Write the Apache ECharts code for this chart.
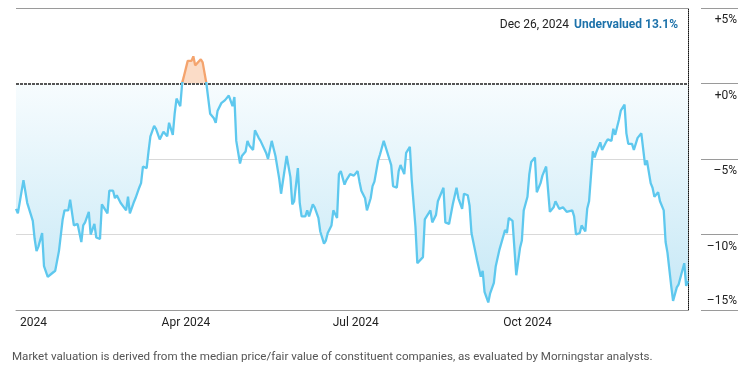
<!DOCTYPE html>
<html><head><meta charset="utf-8">
<script src="https://cdn.jsdelivr.net/npm/echarts@6/dist/echarts.min.js"></script>
<style>html,body{margin:0;padding:0;background:#fff}#c{width:754px;height:379px}</style>
</head><body><div id="c"></div>
<script>
// Day of 2024 (0 = Jan 1) for each reading
const dayOfYear = [0,1,4,6,7,9,10,11,12,14,15,17,18,19,21,23,25,26,28,29,31,33,34,35,36,37,39,40,42,43,45,46,47,49,50,52,53,54,56,57,59,60,61,63,64,66,67,68,70,71,72,74,75,77,78,79,81,82,84,85,86,88,89,91,92,93,94,95,96,97,99,100,102,103,104,106,107,108,110,111,112,114,116,117,118,120,121,123,124,125,127,128,130,131,132,134,135,137,138,139,141,142,143,145,147,148,149,151,152,153,155,156,157,159,160,162,163,165,166,167,169,170,172,173,174,176,177,179,181,
183,184,185,187,188,190,191,192,194,195,197,198,200,201,202,204,205,206,208,209,211,212,214,215,216,218,219,220,222,223,225,226,227,229,230,232,233,234,236,237,239,240,242,243,244,246,247,249,250,251,253,254,256,257,259,260,262,263,264,266,267,268,270,271,272,274,275,276,278,279,281,282,284,285,286,288,289,291,292,293,295,296,298,299,300,302,303,305,306,307,309,310,311,313,314,316,317,319,320,321,323,324,326,327,328,330,331,333,334,335,337,338,340,341,342,344,345,347,348,349,351,352,354,355,356,358,359,360];
// Market valuation, % vs fair value (negative = undervalued)
const valuation = [-8.3,-8.6,-6.4,-7.9,-8.0,-9.1,-10.3,-11.1,-10.8,-9.9,-12.1,-12.8,-12.9,-12.6,-12.4,-11.1,-9.0,-8.4,-8.4,-7.7,-9.4,-9.3,-9.4,-10.5,-9.4,-9.2,-8.5,-10.0,-9.3,-10.2,-10.3,-8.0,-7.9,-8.6,-7.1,-7.1,-7.6,-7.4,-7.9,-8.0,-8.4,-7.5,-8.6,-7.9,-7.6,-6.9,-6.6,-5.5,-5.6,-4.5,-3.5,-2.8,-3.0,-3.7,-3.6,-3.2,-3.5,-2.6,-3.4,-2.0,-1.0,-1.5,0.0,1.0,1.5,1.4,1.5,1.8,1.2,1.3,1.6,1.4,0.0,-1.0,-2.0,-2.3,-2.6,-1.8,-1.3,-1.2,-1.1,-0.8,-1.5,-0.9,-3.8,-5.3,-4.8,-4.5,-3.8,-4.1,-4.4,-3.1,-3.6,-3.8,-3.9,-4.6,-5.0,-3.8,-4.3,-4.8,-6.3,-7.3,-7.2,-4.8,-6.2,-8.0,-7.8,-5.6,-7.9,-8.8,-8.8,-8.4,-8.8,-8.0,-8.2,-8.9,-9.8,-10.6,-10.4,-9.9,-9.4,-8.4,-8.9,-6.0,-5.8,-6.7,-6.4,-6.0,-6.1,
-5.8,-6.5,-7.1,-7.6,-8.4,-7.6,-6.8,-6.5,-5.1,-4.7,-3.8,-3.8,-5.0,-5.4,-6.8,-6.9,-5.8,-5.4,-6.0,-4.6,-4.2,-6.4,-9.5,-11.9,-11.9,-11.5,-9.0,-8.8,-8.4,-9.2,-8.7,-7.8,-7.8,-6.9,-9.2,-9.3,-9.2,-8.0,-6.9,-7.6,-8.3,-7.3,-7.4,-8.1,-9.9,-11.1,-11.7,-12.8,-12.4,-13.8,-14.5,-13.9,-13.2,-12.1,-11.0,-10.9,-9.7,-9.9,-8.9,-9.1,-10.9,-12.7,-10.9,-10.4,-8.4,-7.5,-6.0,-5.2,-4.9,-7.2,-6.6,-6.1,-5.5,-5.6,-8.5,-8.2,-7.8,-8.3,-8.4,-8.2,-8.5,-8.5,-8.4,-8.8,-10.0,-9.9,-9.4,-9.8,-8.3,-7.8,-4.5,-4.9,-4.5,-3.9,-4.4,-3.9,-3.7,-3.8,-3.0,-3.4,-2.4,-1.8,-1.4,-3.3,-4.0,-4.0,-4.4,-3.6,-3.5,-3.3,-5.4,-5.1,-6.6,-6.9,-7.5,-7.2,-7.8,-8.4,-10.5,-11.2,-13.4,-14.4,-13.5,-13.3,-13.3,-11.9,-13.4,-13.1];
const xTickDays = [0, 91, 182, 274];
const xTickLabels = ['2024', 'Apr 2024', 'Jul 2024', 'Oct 2024'];
const yTickValues = [-15, -10, -5, 0, 5];
const yTickLabels = ['\u201315%', '\u201310%', '\u20135%', '+0%', '+5%'];
const annotationDate = 'Dec 26, 2024';
const annotationText = 'Undervalued 13.1%';
const footnote = 'Market valuation is derived from the median price/fair value of constituent companies, as evaluated by Morningstar analysts.';

const FONT = "Roboto,'Liberation Sans',sans-serif";
const FS = 12;
const BLUE = '#5ec8ee', ORANGE = '#f4a46e';
const lineData = dayOfYear.map((d, i) => [d, valuation[i]]);
const belowData = dayOfYear.map((d, i) => [d, Math.min(valuation[i], 0)]);
const aboveData = dayOfYear.map((d, i) => [d, Math.max(valuation[i], 0)]);
// split the stroke colour at the zero level (relative to the line's bounding box)
const vMax = Math.max(...valuation), vMin = Math.min(...valuation);
const zeroOff = vMax > 0 ? vMax / (vMax - vMin) : 0;

const chart = echarts.init(document.getElementById('c'), null, {renderer: 'canvas'});
chart.setOption({
  animation: false,
  title: {
    text: '{a|' + annotationDate + '} {b|' + annotationText + '}',
    right: 76, top: 16, padding: 0,
    textStyle: {
      rich: {
        a: {fontFamily: FONT, fontSize: FS, fontWeight: 'normal', color: '#222'},
        b: {fontFamily: FONT, fontSize: FS, fontWeight: 'bold', color: '#1d72aa'}
      }
    }
  },
  graphic: [{
    type: 'text', left: 12, top: 351,
    style: {text: footnote, font: '11.6px ' + FONT, fill: '#555'}
  }],
  grid: [
    {left: 16, right: 66, top: 8, bottom: 69},
    {left: 701, right: 16, top: 8, bottom: 69}
  ],
  xAxis: [{
    type: 'value', gridIndex: 0, min: 0, max: 360,
    axisLine: {show: true, onZero: false, lineStyle: {color: '#9a9a9a', width: 1}},
    axisTick: {show: false}, splitLine: {show: false},
    axisLabel: {
      customValues: xTickDays,
      alignMinLabel: 'left',
      formatter: v => { const i = xTickDays.indexOf(v); return i === 0 ? '{f|' + xTickLabels[0] + '}' : xTickLabels[i]; },
      color: '#222', fontFamily: FONT, fontSize: FS, margin: 7,
      rich: {f: {padding: [0, 0, 0, 4], fontFamily: FONT, fontSize: FS, color: '#222'}}
    }
  }, {
    type: 'value', gridIndex: 1, min: 0, max: 1, show: false
  }],
  yAxis: [{
    type: 'value', gridIndex: 0, position: 'right', min: -15, max: 5, interval: 5,
    axisLine: {show: true, onZero: false, lineStyle: {color: '#111', type: [1, 1], width: 1}},
    axisTick: {show: false},
    splitLine: {show: true, lineStyle: {color: ['#9a9a9a', '#d9d9d9', '#d9d9d9', 'rgba(0,0,0,0)', '#9a9a9a'], width: 1}},
    axisLabel: {
      align: 'right', margin: 49, color: '#222', fontFamily: FONT, fontSize: FS,
      formatter: v => { const t = yTickLabels[yTickValues.indexOf(v)]; return v === yTickValues[0] ? '{u|' + t + '}' : '{d|' + t + '}'; },
      rich: {
        d: {padding: [24, 0, 0, 0], fontFamily: FONT, fontSize: FS, color: '#222'},
        u: {padding: [0, 0, 19, 0], fontFamily: FONT, fontSize: FS, color: '#222'}
      }
    }
  }, {
    type: 'value', gridIndex: 1, position: 'right', min: -15, max: 5, interval: 5,
    axisLine: {show: false}, axisTick: {show: false}, axisLabel: {show: false},
    splitLine: {show: true, lineStyle: {color: '#9a9a9a', width: 1}}
  }],
  series: [{
    type: 'line', data: belowData, showSymbol: false, silent: true, z: 1,
    lineStyle: {width: 0, opacity: 0},
    areaStyle: {
      opacity: 1,
      color: new echarts.graphic.LinearGradient(0, 0, 0, 1, [
        {offset: 0, color: '#f7fcfe'}, {offset: 1, color: '#c6e8f6'}
      ])
    },
    emphasis: {disabled: true}
  }, {
    type: 'line', data: aboveData, showSymbol: false, silent: true, z: 1,
    lineStyle: {width: 0, opacity: 0},
    areaStyle: {opacity: 1, color: '#fbdcc7'},
    emphasis: {disabled: true}
  }, {
    type: 'line', data: lineData, showSymbol: false, silent: true, z: 5,
    lineStyle: {
      width: 2.3,
      color: new echarts.graphic.LinearGradient(0, 0, 0, 1, [
        {offset: 0, color: ORANGE}, {offset: zeroOff, color: ORANGE},
        {offset: zeroOff, color: BLUE}, {offset: 1, color: BLUE}
      ])
    },
    emphasis: {disabled: true},
    markLine: {
      silent: true, symbol: 'none', label: {show: false},
      lineStyle: {color: '#555', type: [3, 1], width: 2},
      data: [{yAxis: 0}]
    }
  }]
});
</script>
</body></html>
